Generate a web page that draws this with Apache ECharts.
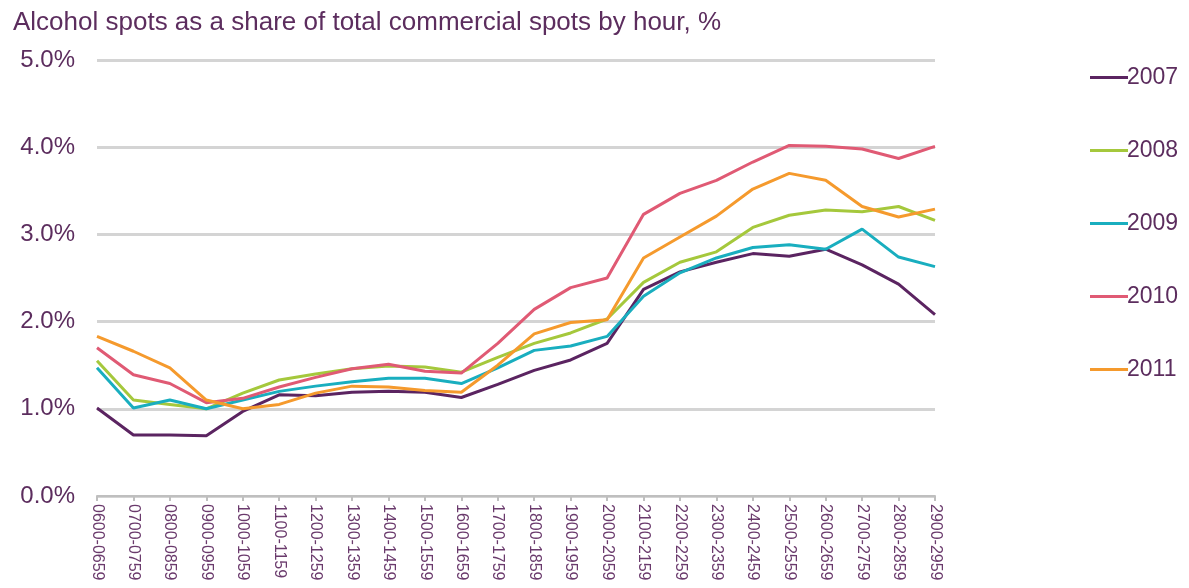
<!DOCTYPE html>
<html><head><meta charset="utf-8">
<script src="https://cdn.jsdelivr.net/npm/echarts@6/dist/echarts.min.js"></script>
<style>html,body{margin:0;padding:0;background:#fff}#c{width:1189px;height:588px}</style>
</head><body><div id="c"></div>
<script>
const categories = ["0600-0659","0700-0759","0800-0859","0900-0959","1000-1059","1100-1159","1200-1259","1300-1359","1400-1459","1500-1559","1600-1659","1700-1759","1800-1859","1900-1959","2000-2059","2100-2159","2200-2259","2300-2359","2400-2459","2500-2559","2600-2659","2700-2759","2800-2859","2900-2959"];
const s2007 = [1.01,0.70,0.70,0.69,0.97,1.16,1.15,1.19,1.20,1.19,1.13,1.28,1.44,1.56,1.75,2.37,2.57,2.68,2.78,2.75,2.83,2.65,2.43,2.08];
const s2008 = [1.55,1.10,1.05,1.00,1.18,1.33,1.40,1.46,1.49,1.48,1.42,1.59,1.75,1.87,2.03,2.45,2.68,2.80,3.08,3.22,3.28,3.26,3.32,3.16];
const s2009 = [1.47,1.01,1.10,1.00,1.10,1.20,1.26,1.31,1.35,1.35,1.29,1.47,1.67,1.72,1.83,2.29,2.56,2.73,2.85,2.88,2.83,3.06,2.74,2.63];
const s2010 = [1.70,1.39,1.29,1.07,1.12,1.25,1.36,1.46,1.51,1.43,1.41,1.75,2.14,2.39,2.50,3.23,3.47,3.62,3.83,4.02,4.01,3.98,3.87,4.01];
const s2011 = [1.83,1.66,1.47,1.10,1.00,1.05,1.18,1.26,1.25,1.21,1.19,1.50,1.86,1.99,2.02,2.73,2.97,3.21,3.52,3.70,3.62,3.32,3.20,3.29];
const seriesNames = ["2007","2008","2009","2010","2011"];
const seriesData = [s2007,s2008,s2009,s2010,s2011];
const colors = ["#5b2461","#a5c83c","#19aebf","#e05a74","#f59a2d"];
const textColor = "#5c2d5e";
const font = "Liberation Sans, Arial, sans-serif";

const chart = echarts.init(document.getElementById('c'));
chart.setOption({
  animation: false,
  title: {text: "Alcohol spots as a share of total commercial spots by hour, %", left: 8, top: 5,
    textStyle: {fontFamily: font, fontSize: 26, fontWeight: 'normal', color: textColor}},
  legend: {orient: 'vertical', left: 1085, top: 61, itemGap: 50, icon: 'rect', itemWidth: 38, itemHeight: 3,
    textStyle: {fontFamily: font, fontSize: 23, color: textColor, padding: [0,0,0,-6]},
    data: seriesNames},
  grid: {left: 97, right: 254, top: 60, bottom: 92, containLabel: false},
  xAxis: {type: 'category', data: categories, boundaryGap: false,
    axisLine: {lineStyle: {color: '#bfbfbf', width: 2}},
    axisTick: {show: true, alignWithLabel: true, length: 5, lineStyle: {color: '#bfbfbf', width: 2}},
    axisLabel: {rotate: -90, interval: 0, fontFamily: font, fontSize: 16, color: '#6a3a6c', margin: 8}},
  yAxis: {type: 'value', min: 0, max: 5, interval: 1,
    axisLine: {show: false}, axisTick: {show: false},
    splitLine: {lineStyle: {color: '#d4d4d4', width: 3}},
    axisLabel: {fontFamily: font, fontSize: 24, color: textColor, margin: 22,
      formatter: v => v.toFixed(1) + '%'}},
  series: seriesNames.map((n, i) => ({
    name: n, type: 'line', data: seriesData[i], symbol: 'none', color: colors[i],
    lineStyle: {width: 3, color: colors[i]}
  }))
});
</script></body></html>
